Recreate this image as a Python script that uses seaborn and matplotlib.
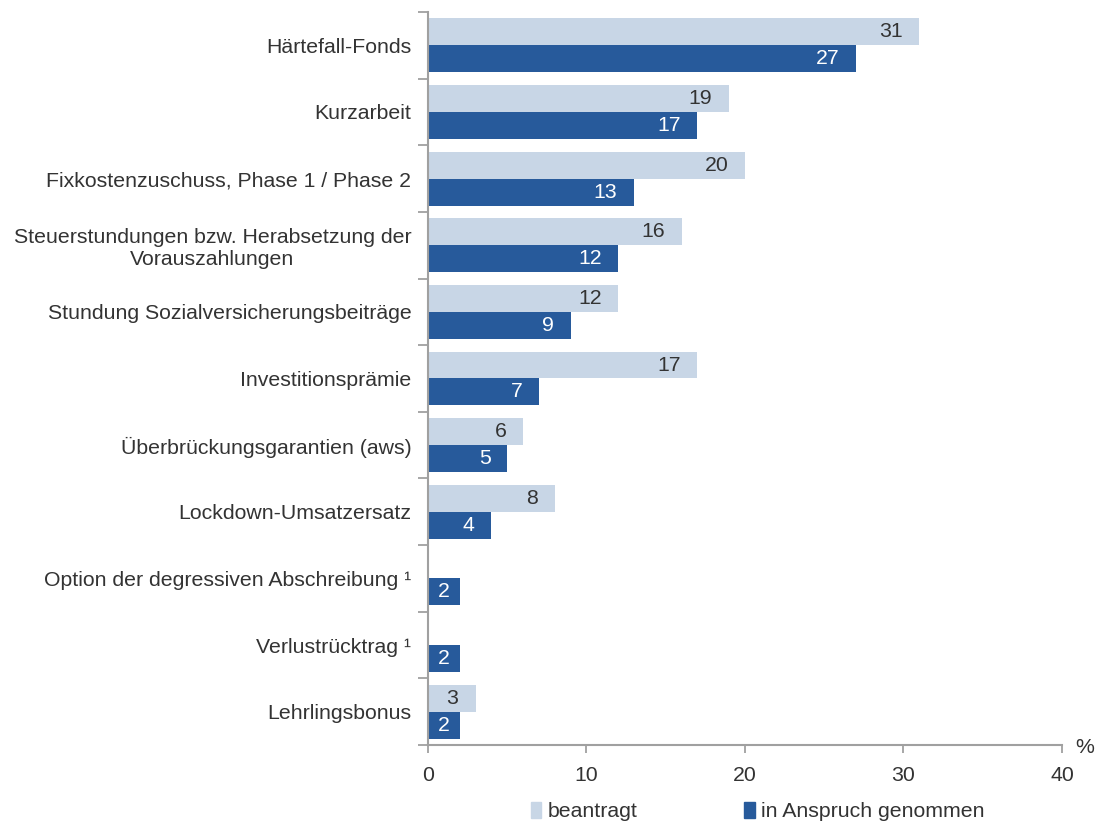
import seaborn as sns
import pandas as pd
import matplotlib.pyplot as plt
import numpy as np

categories = [
    "Härtefall-Fonds",
    "Kurzarbeit",
    "Fixkostenzuschuss, Phase 1 / Phase 2",
    "Steuerstundungen bzw. Herabsetzung der\nVorauszahlungen",
    "Stundung Sozialversicherungsbeiträge",
    "Investitionsprämie",
    "Überbrückungsgarantien (aws)",
    "Lockdown-Umsatzersatz",
    "Option der degressiven Abschreibung ¹",
    "Verlustrücktrag ¹",
    "Lehrlingsbonus",
]
beantragt = [31, 19, 20, 16, 12, 17, 6, 8, np.nan, np.nan, 3]
genommen = [27, 17, 13, 12, 9, 7, 5, 4, 2, 2, 2]
series = ["beantragt", "in Anspruch genommen"]
colors = ["#C8D6E6", "#275A9B"]

df = pd.concat([
    pd.DataFrame({"Kategorie": categories, "Wert": beantragt, "Serie": series[0]}),
    pd.DataFrame({"Kategorie": categories, "Wert": genommen, "Serie": series[1]}),
], ignore_index=True)

sns.set_style("white")
plt.rcParams['font.family'] = ['Liberation Sans', 'DejaVu Sans']
fs = 15.3

fig = plt.figure(figsize=(10.98, 8.23), dpi=100)
ax = fig.add_axes([0.3898, 0.0948, 0.5774, 0.8906])

sns.barplot(data=df, y="Kategorie", x="Wert", hue="Serie", orient="h",
            palette=colors, width=0.81, saturation=1, errorbar=None, ax=ax,
            legend=False, linewidth=0)

# value labels
for cont, txtcol in zip(ax.containers, ["#333333", "white"]):
    for bar in cont:
        v = bar.get_width()
        if np.isnan(v) or v == 0:
            continue
        yc = bar.get_y() + bar.get_height() / 2
        if v <= 3:
            ax.text(v / 2, yc, f"{v:.0f}", ha="center", va="center",
                    fontsize=fs, color=txtcol)
        else:
            ax.annotate(f"{v:.0f}", (v, yc), xytext=(-12, 0),
                        textcoords="offset points", ha="right", va="center",
                        fontsize=fs, color=txtcol)

ax.set_xlim(0, 40)
ax.set_ylim(len(categories) - 0.5, -0.5)
ax.set_xticks([0, 10, 20, 30, 40])
ax.set_xlabel("")
ax.set_ylabel("")

ax.set_yticks(np.arange(-0.5, len(categories)), minor=True)
ax.tick_params(axis="y", which="major", length=0, pad=12, labelsize=fs,
               labelcolor="#333333")
ax.tick_params(axis="y", which="minor", length=7, width=1.3, color="#A0A0A0",
               direction="out", left=True)
ax.tick_params(axis="x", length=6, width=1.3, color="#A0A0A0", direction="out",
               bottom=True, labelsize=fs, labelcolor="#333333", pad=9)
for lab in ax.get_yticklabels():
    lab.set_multialignment("center")

sns.despine(ax=ax)
for s in ["left", "bottom"]:
    ax.spines[s].set_color("#A0A0A0")
    ax.spines[s].set_linewidth(1.5)

ax.text(1.036, -0.004, "%", transform=ax.transAxes, fontsize=fs,
        color="#333333", ha="center", va="center")

handles = [plt.Rectangle((0, 0), 1, 1, color=c) for c in colors]
fig.legend(handles, series, loc="center", bbox_to_anchor=(0.69, 0.014),
           ncol=2, frameon=False, fontsize=fs, handlelength=0.5,
           handleheight=0.8, handletextpad=0.3, columnspacing=5,
           labelcolor="#333333")

fig.savefig("out.png", dpi=100)
